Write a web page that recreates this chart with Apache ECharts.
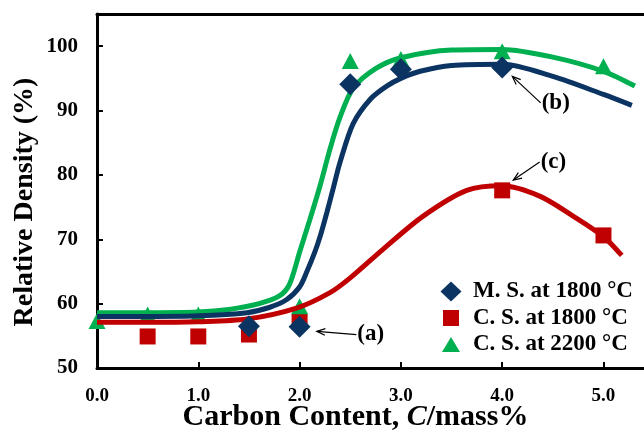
<!DOCTYPE html>
<html>
<head>
<meta charset="utf-8">
<script src="https://cdn.jsdelivr.net/npm/echarts@6/dist/echarts.min.js"></script>
<style>
  html, body { margin: 0; padding: 0; background: #fff; }
  #chart { width: 644px; height: 431px; }
</style>
</head>
<body>
<div id="chart"></div>
<script>
// Measured relative density vs carbon content
const msAt1800 = [[1.5, 56.5], [2.0, 56.4], [2.5, 94.1], [3.0, 96.4], [4.0, 96.7]];
const csAt1800 = [[0.5, 54.9], [1.0, 54.9], [1.5, 55.2], [2.0, 57.2], [4.0, 77.6], [5.0, 70.6]];
const csAt2200 = [[0.0, 57.3], [0.5, 58.3], [1.0, 58.3], [2.0, 59.6], [2.5, 97.7], [3.0, 98.0], [4.0, 99.2], [5.0, 96.9]];

// Fitted trend curves
const msFit = [[0, 58.0], [0.5, 58.0], [1.0, 58.1], [1.48, 58.6], [1.7, 59.4], [1.87, 60.6], [2.0, 62.6],
  [2.07, 64.9], [2.15, 68.0], [2.2, 70.3], [2.27, 74.2], [2.33, 77.8], [2.4, 82.0], [2.53, 88.0],
  [2.7, 91.8], [2.86, 93.8], [3.0, 95.0], [3.19, 96.1], [3.5, 97.0], [4.0, 97.2], [4.5, 95.3],
  [5.0, 92.5], [5.28, 90.8]];
const cs1800Fit = [[0, 57.1], [0.5, 57.1], [1.0, 57.2], [1.48, 57.6], [1.97, 59.3], [2.3, 61.7],
  [2.5, 64.0], [2.82, 68.4], [3.22, 73.6], [3.65, 77.6], [4.0, 78.3], [4.37, 76.7], [4.7, 73.6],
  [5.0, 70.4], [5.18, 67.5]];
const cs2200Fit = [[0, 58.6], [0.5, 58.6], [1.0, 58.7], [1.3, 59.1], [1.6, 60.0], [1.8, 61.2], [1.9, 63.0],
  [2.0, 68.0], [2.1, 73.0], [2.2, 78.2], [2.3, 84.0], [2.4, 89.0], [2.53, 93.5], [2.75, 96.5],
  [3.0, 98.2], [3.5, 99.4], [4.0, 99.5], [4.5, 98.3], [5.0, 96.1], [5.31, 93.8]];

const seriesNames = ['M. S. at 1800 °C', 'C. S. at 1800 °C', 'C. S. at 2200 °C'];
const xTicks = [0, 1, 2, 3, 4, 5];
const yTicks = [50, 60, 70, 80, 90, 100];

// Callouts: label text, arrow tail, arrow head (data units)
const callouts = [
  { text: '(a)', tail: [2.56, 55.2], head: [2.17, 55.7] },
  { text: '(b)', tail: [4.38, 91.2], head: [4.10, 95.3] },
  { text: '(c)', tail: [4.37, 82.0], head: [4.11, 79.2] }
];

const NAVY = '#0b3462';
const RED = '#c00000';
const GREEN = '#00b050';
const FONT = "'Liberation Serif', 'Times New Roman', serif";

// Legend glyphs share one 22x20 box so each keeps its own drawn size
const ICON_DIAMOND = 'path://M0,0M22,20M11,0L21.5,10L11,20L0.5,10Z';
const ICON_SQUARE = 'path://M0,0M22,20M3,2L19,2L19,18L3,18Z';
const ICON_TRIANGLE = 'path://M0,0M22,20M11,2.5L20,17.5L2,17.5Z';

const chart = echarts.init(document.getElementById('chart'), null, { renderer: 'canvas' });

chart.setOption({
  animation: false,
  grid: { left: 97, top: 14, right: 0, bottom: 63, containLabel: false, outerBoundsMode: 'none' },
  xAxis: [{
    type: 'value', min: 0, max: 5.4, interval: 1,
    name: 'Carbon Content, {i|C}/mass%',
    nameLocation: 'middle', nameGap: 34, nameMoveOverlap: false,
    nameTextStyle: {
      color: '#000', fontFamily: FONT, fontWeight: 'bold', fontSize: 30, padding: [0, 30, 0, 0],
      rich: { i: { fontFamily: FONT, fontWeight: 'bold', fontStyle: 'italic', fontSize: 30, color: '#000' } }
    },
    axisLine: { lineStyle: { color: '#000', width: 3 } },
    axisTick: { inside: true, length: 6, lineStyle: { color: '#000', width: 2 } },
    axisLabel: { margin: 19, showMaxLabel: false, color: '#000', fontFamily: FONT, fontWeight: 'bold', fontSize: 19,
      formatter: v => xTicks.includes(Math.round(v * 10) / 10) ? v.toFixed(1) : '' },
    splitLine: { show: false }
  }, {
    type: 'value', min: 0, max: 5.4, position: 'top',
    axisLine: { show: true, lineStyle: { color: '#000', width: 3 } },
    axisTick: { show: false }, axisLabel: { show: false }, splitLine: { show: false }
  }],
  yAxis: {
    type: 'value', min: 50, max: 105, interval: 10,
    name: 'Relative Density (%)',
    nameLocation: 'middle', nameGap: 58, nameMoveOverlap: false,
    nameTextStyle: { color: '#000', fontFamily: FONT, fontWeight: 'bold', fontSize: 28, padding: [0, 22, 0, 0] },
    axisLine: { lineStyle: { color: '#000', width: 3 } },
    axisTick: { inside: true, length: 6, lineStyle: { color: '#000', width: 2 } },
    axisLabel: { margin: 19, showMaxLabel: false, color: '#000', fontFamily: FONT, fontWeight: 'bold', fontSize: 21,
      formatter: v => yTicks.includes(v) ? String(v) : '' },
    splitLine: { show: false }
  },
  legend: {
    orient: 'vertical', left: 440, top: 280, padding: 0,
    itemWidth: 22, itemHeight: 20, itemGap: 3.5,
    textStyle: { color: '#000', fontFamily: FONT, fontWeight: 'bold', fontSize: 23, padding: [0, 0, 0, 6] },
    data: [
      { name: seriesNames[0], icon: ICON_DIAMOND },
      { name: seriesNames[1], icon: ICON_SQUARE },
      { name: seriesNames[2], icon: ICON_TRIANGLE }
    ]
  },
  series: [
    { name: seriesNames[1], type: 'scatter', data: csAt1800, symbol: 'rect', symbolSize: 16,
      itemStyle: { color: RED, opacity: 1 }, z: 2 },
    { name: seriesNames[2], type: 'scatter', data: csAt2200, symbol: 'triangle', symbolSize: [17, 16],
      itemStyle: { color: GREEN, opacity: 1 }, z: 3 },
    { type: 'line', data: cs2200Fit, smooth: 0.3, showSymbol: false, lineStyle: { color: GREEN, width: 5 }, z: 4, silent: true },
    { type: 'line', data: msFit, smooth: 0.3, showSymbol: false, lineStyle: { color: NAVY, width: 5 }, z: 4, silent: true },
    { type: 'line', data: cs1800Fit, smooth: 0.3, showSymbol: false, lineStyle: { color: RED, width: 5 }, z: 4, silent: true },
    { name: seriesNames[0], type: 'scatter', data: msAt1800, symbol: 'diamond', symbolSize: [22, 22],
      itemStyle: { color: NAVY, opacity: 1 }, z: 5 }
  ]
});

// Callout arrows and labels, positioned from data coordinates
function toPx(p) { return chart.convertToPixel({ gridIndex: 0 }, p); }
const graphics = [];
callouts.forEach(c => {
  const t = toPx(c.tail), h = toPx(c.head);
  const ang = Math.atan2(t[1] - h[1], t[0] - h[0]);
  const len = 9, spread = 0.38;
  const a1 = [h[0] + len * Math.cos(ang + spread), h[1] + len * Math.sin(ang + spread)];
  const a2 = [h[0] + len * Math.cos(ang - spread), h[1] + len * Math.sin(ang - spread)];
  graphics.push({ type: 'line', shape: { x1: t[0], y1: t[1], x2: h[0], y2: h[1] },
    style: { stroke: '#000', lineWidth: 1.2 }, z: 10 });
  graphics.push({ type: 'polyline', shape: { points: [a1, h, a2] },
    style: { stroke: '#000', lineWidth: 1.2, fill: null }, z: 10 });
  graphics.push({ type: 'text', x: t[0] + 1, y: t[1],
    style: { text: c.text, fill: '#000', font: "bold 23px 'Liberation Serif', 'Times New Roman', serif",
      textAlign: 'left', textVerticalAlign: 'middle' }, z: 10 });
});
chart.setOption({ graphic: graphics });
</script>
</body>
</html>
